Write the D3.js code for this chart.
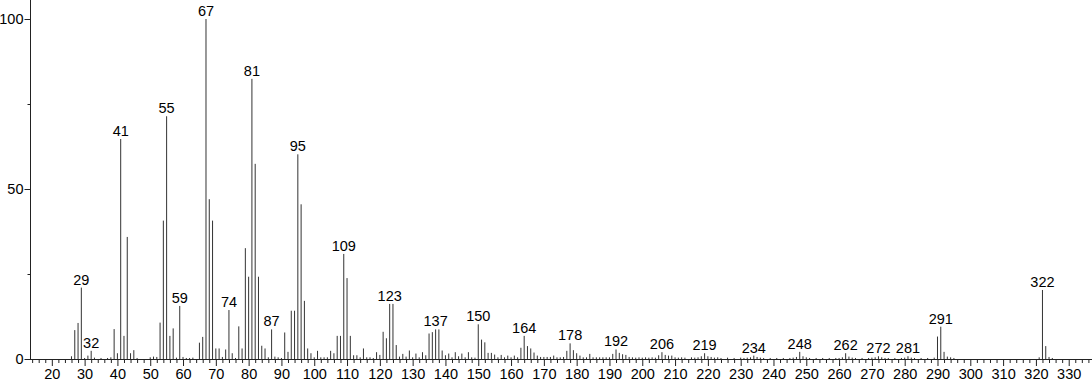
<!DOCTYPE html>
<html>
<head>
<meta charset="utf-8">
<script src="https://cdn.jsdelivr.net/npm/d3@7"></script>
<style>
  html, body { margin: 0; padding: 0; background: #fff; }
  svg { display: block; }
  text { font-family: "Liberation Sans", Arial, sans-serif; }
</style>
</head>
<body>
<script>
// m/z values and relative intensities (%)
const masses = [
  26, 27, 28, 29, 30, 31, 32, 33, 35, 37, 38, 39, 40, 41, 42, 43, 44, 45, 46,
  50, 51, 52, 53, 54, 55, 56, 57, 58, 59, 60, 61, 62, 63, 65, 66, 67, 68, 69,
  70, 71, 72, 73, 74, 75, 76, 77, 78, 79, 80, 81, 82, 83, 84, 85, 86, 87, 88, 89,
  90, 91, 92, 93, 94, 95, 96, 97, 98, 99, 100, 101, 102, 103, 104, 105, 106, 107, 108, 109,
  110, 111, 112, 113, 114, 115, 116, 117, 118, 119, 120, 121, 122, 123, 124, 125, 126, 127, 128, 129,
  130, 131, 132, 133, 134, 135, 136, 137, 138, 139, 140, 141, 142, 143, 144, 145, 146, 147, 148, 149,
  150, 151, 152, 153, 154, 155, 156, 157, 158, 159, 160, 161, 162, 163, 164, 165, 166, 167, 168, 169,
  170, 171, 172, 173, 174, 175, 176, 177, 178, 179, 180, 181, 182, 183, 184, 185, 186, 187, 188, 189,
  190, 191, 192, 193, 194, 195, 196, 197, 198, 199, 200, 201, 202, 203, 204, 205, 206, 207, 208, 209,
  210, 211, 212, 213, 215, 216, 217, 218, 219, 220, 221, 222, 223, 224, 226, 228,
  230, 231, 232, 233, 234, 235, 236, 237, 239, 241, 243, 245, 246, 247, 248, 249, 250, 251, 253, 255,
  257, 259, 260, 261, 262, 263, 264, 265, 267, 269, 270, 271, 272, 273, 274, 275, 277, 279, 280, 281, 282, 283, 285, 287,
  289, 290, 291, 292, 293, 294, 295, 321, 322, 323, 324, 325
];
const intensities = [
  0.8, 8.5, 10.6, 21.0, 0.3, 1.0, 2.4, 0.4, 0.3, 0.3, 0.5, 8.8, 1.7, 64.7, 6.8, 35.9, 1.7, 2.6, 0.3,
  0.5, 0.7, 0.6, 10.7, 40.7, 71.4, 6.8, 9.0, 0.4, 15.6, 0.6, 0.3, 0.3, 0.4, 4.8, 6.5, 100, 47.0, 40.7,
  3.1, 3.1, 0.6, 2.8, 14.4, 1.7, 0.3, 9.6, 3.1, 32.6, 24.2, 82.4, 57.4, 24.2, 3.9, 3.1, 0.5, 8.7, 0.7, 0.5,
  0.3, 7.8, 2.1, 14.2, 14.2, 60.2, 45.5, 17.1, 3.1, 1.7, 0.5, 2.4, 0.5, 0.5, 0.5, 2.4, 1.7, 6.8, 6.8, 30.9,
  23.8, 6.8, 1.1, 1.1, 0.5, 3.1, 0.5, 0.5, 0.3, 2.0, 1.2, 8.0, 6.1, 16.2, 16.2, 4.1, 0.7, 1.5, 0.7, 2.5,
  0.5, 1.6, 0.5, 2.0, 1.1, 7.5, 7.9, 8.7, 8.7, 2.5, 1.1, 1.6, 0.5, 2.0, 0.8, 1.6, 0.5, 2.0, 0.5, 0.4,
  10.2, 5.7, 4.9, 1.8, 1.8, 1.3, 0.5, 1.2, 0.5, 1.0, 0.5, 1.0, 0.5, 3.3, 6.8, 3.8, 3.1, 1.9, 1.0, 0.6,
  0.6, 0.6, 0.6, 1.0, 0.5, 0.5, 0.6, 2.4, 4.6, 2.6, 1.7, 1.0, 0.5, 0.5, 1.5, 0.5, 0.5, 0.5, 0.5, 0.5,
  0.5, 1.5, 2.8, 1.8, 1.4, 1.2, 0.6, 0.5, 0.4, 0.5, 0.4, 0.5, 0.4, 0.5, 0.4, 1.1, 2.0, 1.2, 1.0, 1.0,
  0.5, 0.4, 0.5, 0.4, 0.5, 0.4, 0.5, 0.8, 1.7, 0.8, 0.6, 0.4, 0.5, 0.3, 0.4, 0.3,
  0.4, 0.3, 0.4, 0.5, 1.0, 0.6, 0.4, 0.3, 0.3, 0.3, 0.3, 0.3, 0.4, 0.6, 2.1, 0.8, 0.5, 0.3, 0.3, 0.3,
  0.3, 0.3, 0.3, 0.5, 1.7, 0.7, 0.4, 0.3, 0.3, 0.3, 0.4, 0.5, 0.8, 0.5, 0.3, 0.3, 0.3, 0.3, 0.4, 0.8, 0.4, 0.3, 0.3, 0.3,
  0.4, 6.6, 9.5, 2.1, 0.7, 0.5, 0.3, 0.5, 20.3, 3.8, 0.6, 0.3
];
const labeledPeaks = [29, 32, 41, 55, 59, 67, 74, 81, 87, 95, 109, 123, 137, 150, 164, 178, 192, 206, 219, 234, 248, 262, 272, 281, 291, 322];
const xTickLabels = [20, 30, 40, 50, 60, 70, 80, 90, 100, 110, 120, 130, 140, 150, 160, 170, 180, 190, 200, 210, 220, 230, 240, 250, 260, 270, 280, 290, 300, 310, 320, 330];
const yTickLabels = [0, 50, 100];
const yMinorTicks = [25, 75];

const W = 1092, H = 384;
const FONT = "14.5px";
const svg = d3.select("body").append("svg").attr("width", W).attr("height", H);

const x = d3.scaleLinear().domain([13.35, 337.1]).range([30, 1092]);
const y = d3.scaleLinear().domain([0, 100]).range([359, 19]);

const peaks = masses.map((m, i) => ({ m, v: intensities[i] }));
const ink = "#222";

// bars
svg.append("g").selectAll("line").data(peaks).join("line")
  .attr("x1", d => x(d.m)).attr("x2", d => x(d.m))
  .attr("y1", y(0)).attr("y2", d => y(d.v))
  .attr("stroke", "#333").attr("stroke-width", 1);

// x axis
const minorX = d3.range(14, 337, 2).filter(v => v % 10 !== 0);
const xAxisG = svg.append("g").attr("transform", `translate(0,${y(0)})`);
xAxisG.call(d3.axisBottom(x).tickValues(minorX).tickSize(4).tickFormat(""))
  .call(g => g.select(".domain").remove());
xAxisG.append("g").call(d3.axisBottom(x).tickValues(xTickLabels).tickSize(7).tickPadding(3).tickFormat(d3.format("d")))
  .call(g => g.select(".domain").remove());
xAxisG.append("line").attr("x1", 30).attr("x2", W).attr("y1", 0.5).attr("y2", 0.5).attr("stroke", ink);
xAxisG.selectAll("line").attr("stroke", ink);
xAxisG.selectAll("text").attr("font-size", FONT).attr("fill", "#000")
  .attr("font-family", "Liberation Sans, Arial, sans-serif");

// y axis
const yAxisG = svg.append("g").attr("transform", `translate(30.5,0)`);
yAxisG.call(d3.axisLeft(y).tickValues(yMinorTicks).tickSize(3).tickFormat(""))
  .call(g => g.select(".domain").remove());
yAxisG.append("g").call(d3.axisLeft(y).tickValues(yTickLabels).tickSize(6).tickPadding(1).tickFormat(d3.format("d")))
  .call(g => g.select(".domain").remove());
yAxisG.append("line").attr("x1", 0).attr("x2", 0).attr("y1", y(0)).attr("y2", 0).attr("stroke", ink);
yAxisG.selectAll("line").attr("stroke", ink);
yAxisG.selectAll("text").attr("font-size", FONT).attr("fill", "#000")
  .attr("font-family", "Liberation Sans, Arial, sans-serif");

// peak labels
const lab = peaks.filter(d => labeledPeaks.includes(d.m));
svg.append("g").selectAll("text").data(lab).join("text")
  .attr("x", d => x(d.m)).attr("y", d => y(d.v) - 3)
  .attr("text-anchor", "middle")
  .attr("font-size", FONT).attr("fill", "#000")
  .text(d => d.m);
</script>
</body>
</html>
